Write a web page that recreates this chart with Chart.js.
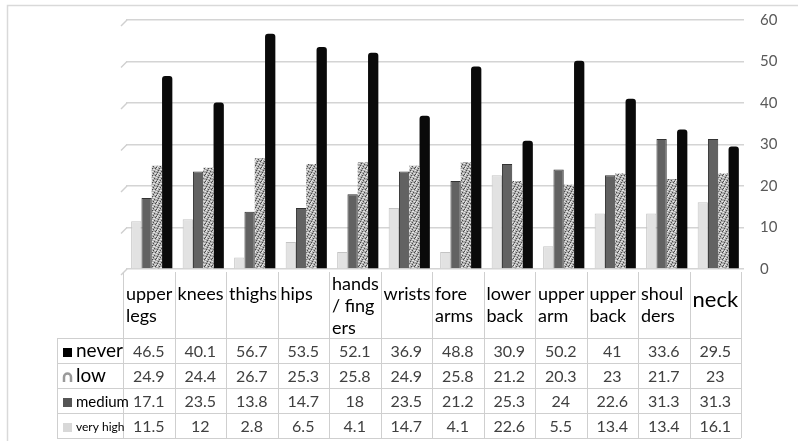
<!DOCTYPE html>
<html>
<head>
<meta charset="utf-8">
<script src="https://cdn.jsdelivr.net/npm/chart.js@4/dist/chart.umd.min.js"></script>
<style>
    body { margin: 0; background: #fff; }
    canvas { display: block; }
</style>
</head>
<body>
<canvas id="chart" width="798" height="441"></canvas>
<script>
// categories, split into the lines shown in the table header
const categories = ['upper legs', 'knees', 'thighs', 'hips', 'hands / fingers', 'wrists', 'fore arms', 'lower back', 'upper arm', 'upper back', 'shoulders', 'neck']
const categoryLines = [['upper', 'legs'], ['knees'], ['thighs'], ['hips'], ['hands', '/ fing', 'ers'], ['wrists'], ['fore', 'arms'], ['lower', 'back'], ['upper', 'arm'], ['upper', 'back'], ['shoul', 'ders'], ['neck']]

const veryHigh = [11.5, 12, 2.8, 6.5, 4.1, 14.7, 4.1, 22.6, 5.5, 13.4, 13.4, 16.1]
const medium = [17.1, 23.5, 13.8, 14.7, 18, 23.5, 21.2, 25.3, 24, 22.6, 31.3, 31.3]
const low = [24.9, 24.4, 26.7, 25.3, 25.8, 24.9, 25.8, 21.2, 20.3, 23, 21.7, 23]
const never = [46.5, 40.1, 56.7, 53.5, 52.1, 36.9, 48.8, 30.9, 50.2, 41, 33.6, 29.5]

const yTicks = [0, 10, 20, 30, 40, 50, 60]

const FONT = 'Lato, "Liberation Sans", sans-serif'
const DEPTH = 3

// speckled fill used for the "low" series
function speckle() {
    const c = document.createElement('canvas')
    c.width = 7
    c.height = 7
    const g = c.getContext('2d')
    g.fillStyle = '#a9a9a9'
    g.fillRect(0, 0, 7, 7)
    g.fillStyle = '#4a4a4a'
    ;[[1, 0], [4, 2], [0, 3], [3, 4], [6, 5], [2, 6], [5, 0]].forEach(([px, py]) => g.fillRect(px, py, 1, 1))
    g.fillStyle = '#e6e6e6'
    ;[[3, 0], [0, 1], [2, 2], [5, 3], [1, 5], [4, 5], [6, 1], [3, 6]].forEach(([px, py]) => g.fillRect(px, py, 1, 1))
    g.fillStyle = '#cfcfcf'
    ;[[2, 0], [1, 2], [6, 3], [0, 5], [5, 6]].forEach(([px, py]) => g.fillRect(px, py, 1, 1))
    return g.createPattern(c, 'repeat')
}
const lowFill = speckle()

// table rows top to bottom
const rows = [
    { label: 'never', size: 19, data: never, marker: 'square', color: '#000' },
    { label: 'low', size: 19, data: low, marker: 'arch', color: '#9a9a9a' },
    { label: 'medium', size: 15, data: medium, marker: 'square', color: '#555' },
    { label: 'very high', size: 12, data: veryHigh, marker: 'square', color: '#d8d8d8' }
]

const frame = {
    id: 'frame',
    beforeDraw(chart) {
        const ctx = chart.ctx
        ctx.save()
        ctx.fillStyle = '#fff'
        ctx.fillRect(0, 0, chart.width, chart.height)
        ctx.strokeStyle = '#d9d9d9'
        ctx.lineWidth = 1.5
        ctx.beginPath()
        ctx.moveTo(7.5, chart.height)
        ctx.lineTo(7.5, 5.5)
        ctx.lineTo(chart.width, 5.5)
        ctx.stroke()
        ctx.restore()
    },
    afterDraw(chart) {
        const ctx = chart.ctx
        const x = chart.scales.x
        const y = chart.scales.y
        ctx.save()
        // little 3d stubs at the left end of each gridline
        ctx.strokeStyle = '#d0d0d0'
        ctx.lineWidth = 1.5
        yTicks.forEach(t => {
            const py = y.getPixelForValue(t)
            ctx.beginPath()
            ctx.moveTo(x.left - 5, py + 6)
            ctx.lineTo(x.left + 1, py)
            ctx.stroke()
        })

        // data table
        const colW = (x.right - x.left) / categories.length
        const left = x.left - DEPTH
        const right = left + colW * categories.length
        const top = 272
        const rowTop = 338
        const rowH = 25
        const bottom = rowTop + rowH * rows.length
        const legendLeft = 57

        ctx.strokeStyle = '#cfcfcf'
        ctx.lineWidth = 1
        ctx.beginPath()
        for (let i = 0; i <= categories.length; i++) {
            const px = Math.round(left + i * colW) + 0.5
            ctx.moveTo(px, top)
            ctx.lineTo(px, bottom)
        }
        ctx.moveTo(legendLeft + 0.5, rowTop)
        ctx.lineTo(legendLeft + 0.5, bottom)
        for (let r = 0; r <= rows.length; r++) {
            const py = rowTop + r * rowH + 0.5
            ctx.moveTo(legendLeft, py)
            ctx.lineTo(right, py)
        }
        ctx.stroke()

        // header labels
        ctx.fillStyle = '#000'
        ctx.textAlign = 'left'
        ctx.textBaseline = 'alphabetic'
        categoryLines.forEach((lines, i) => {
            const cx = left + i * colW + 3
            if (lines.length === 1 && lines[0] === 'neck') {
                ctx.font = '22px ' + FONT
                ctx.fillText(lines[0], cx, 307)
                return
            }
            ctx.font = '18px ' + FONT
            const start = lines.length === 3 ? 290 : 300
            lines.forEach((t, k) => ctx.fillText(t, cx, start + k * 22))
        })

        // rows
        rows.forEach((row, r) => {
            const base = rowTop + r * rowH + 19
            // marker
            if (row.marker === 'square') {
                ctx.fillStyle = row.color
                ctx.fillRect(63, base - 9, 9, 9)
            } else {
                ctx.strokeStyle = row.color
                ctx.lineWidth = 2.5
                ctx.beginPath()
                ctx.moveTo(64, base)
                ctx.lineTo(64, base - 5)
                ctx.arc(67.5, base - 5, 3.5, Math.PI, 0)
                ctx.lineTo(71, base)
                ctx.stroke()
            }
            ctx.fillStyle = '#000'
            ctx.textAlign = 'left'
            ctx.font = row.size + 'px ' + FONT
            ctx.fillText(row.label, 76, base - (row.size < 15 ? 1 : 0))
            // values
            ctx.fillStyle = '#404040'
            ctx.textAlign = 'center'
            ctx.font = '16px ' + FONT
            row.data.forEach((v, i) => {
                ctx.fillText(String(v), left + (i + 0.5) * colW, base)
            })
        })
        ctx.restore()
    }
}

new Chart(document.getElementById('chart'), {
    type: 'bar',
    data: {
        labels: categories,
        datasets: [
            {
                label: 'very high',
                data: veryHigh,
                backgroundColor: '#e2e2e2',
                borderColor: '#c4c4c4',
                borderWidth: 1,
                borderSkipped: 'bottom'
            },
            {
                label: 'medium',
                data: medium,
                backgroundColor: '#626262',
                borderColor: '#333',
                borderWidth: 1,
                borderSkipped: 'bottom'
            },
            {
                label: 'low',
                data: low,
                backgroundColor: lowFill,
                borderWidth: 0
            },
            {
                label: 'never',
                data: never,
                backgroundColor: '#0a0a0a',
                borderRadius: { topLeft: 3, topRight: 3 },
                borderSkipped: 'bottom'
            }
        ]
    },
    options: {
        responsive: false,
        animation: false,
        layout: {
            padding: { left: 126, top: 20, bottom: 172, right: 0 }
        },
        datasets: {
            bar: { categoryPercentage: 0.8, barPercentage: 1 }
        },
        scales: {
            x: {
                display: false
            },
            y: {
                position: 'right',
                min: 0,
                max: 60,
                afterBuildTicks: scale => { scale.ticks = yTicks.map(v => ({ value: v })) },
                afterFit: scale => {
                    scale.width = 54
                    scale.paddingTop = 0
                    scale.paddingBottom = 0
                },
                border: { display: false },
                grid: { color: '#d4d4d4', lineWidth: 1.5, drawTicks: false },
                ticks: {
                    padding: 16,
                    color: '#595959',
                    font: { family: FONT, size: 15 }
                }
            }
        },
        plugins: {
            legend: { display: false },
            tooltip: { enabled: false }
        }
    },
    plugins: [frame]
})
</script>
</body>
</html>
